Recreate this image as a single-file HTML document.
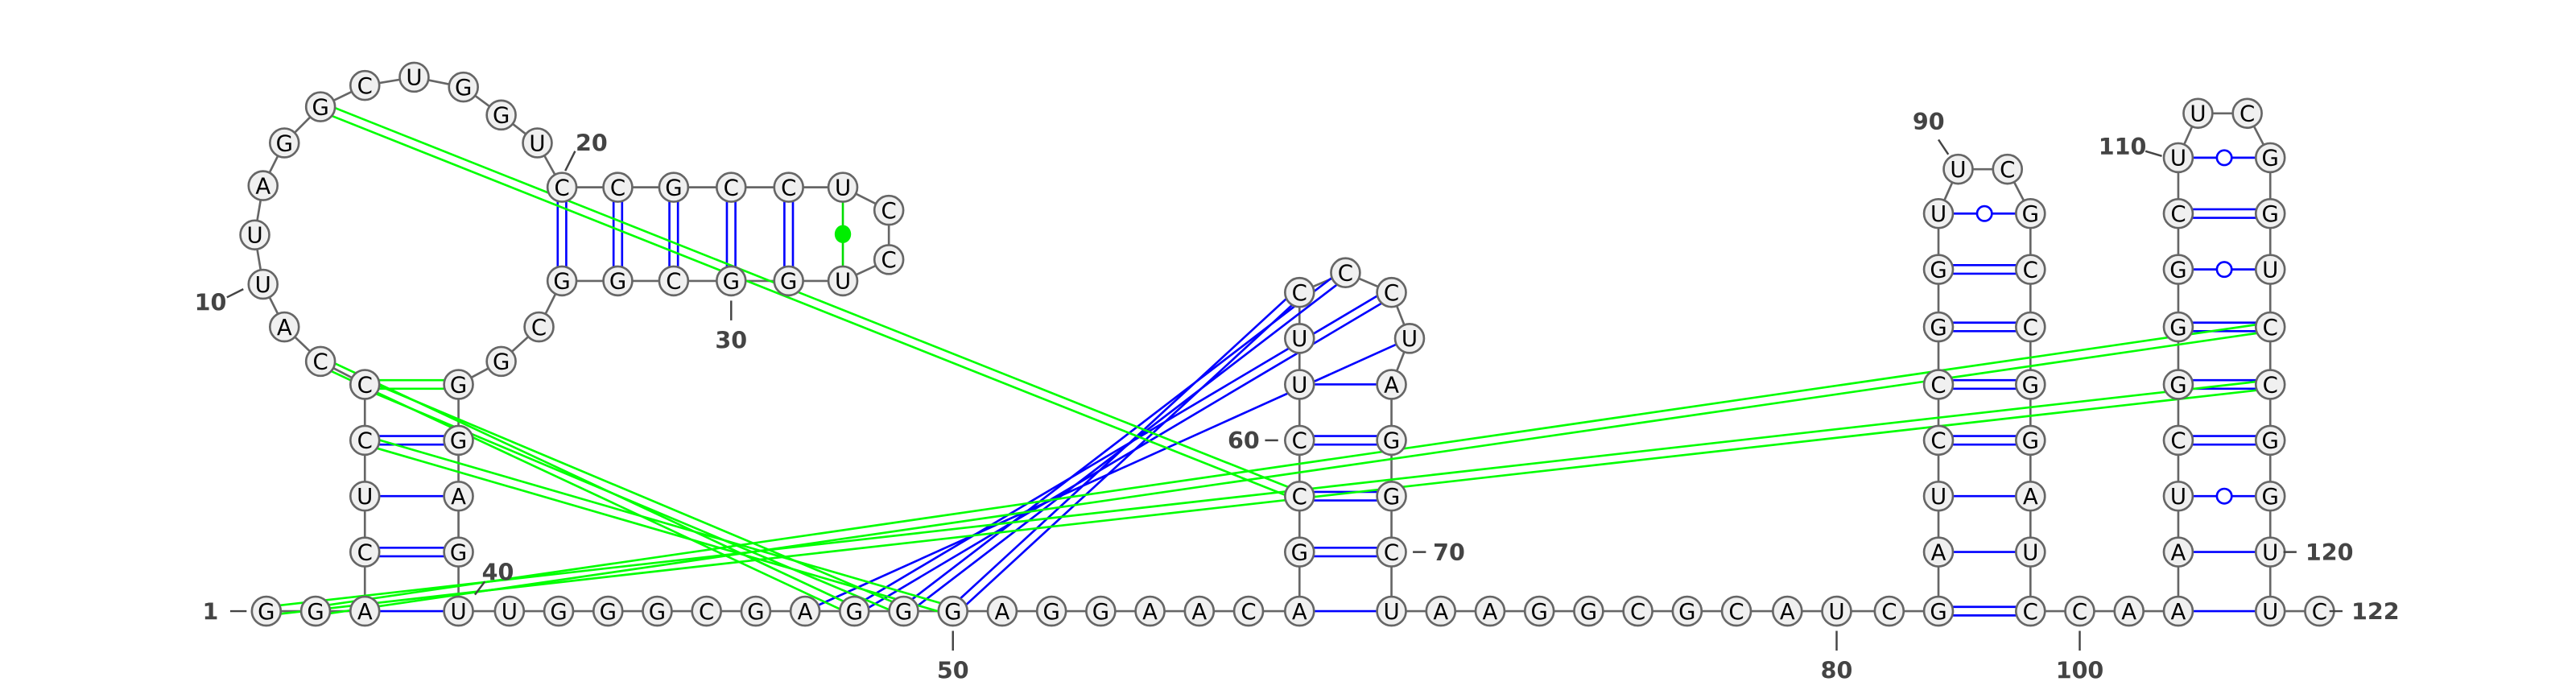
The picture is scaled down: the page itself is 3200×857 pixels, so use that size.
<!DOCTYPE html>
<html><head><meta charset="utf-8">
<style>
html,body{margin:0;padding:0;background:#fff;}
svg{display:block;}
.lbl{font-family:"DejaVu Sans","Liberation Sans",sans-serif;font-weight:bold;font-size:14px;fill:#444;}
.nt{font-family:"DejaVu Sans","Liberation Sans",sans-serif;font-size:13.5px;fill:#000;}
</style></head>
<body>
<svg id="rna" width="3200" height="857" viewBox="0 0 1568 420" xmlns="http://www.w3.org/2000/svg">
<g id="backbone"></g>
<g id="pairs"></g>
<g id="knots"></g>
<g id="nodes"></g>
<g id="labels"></g>
</svg>
<script>
const posX = [162,192,222,222,222,222,222,195,173,160,155,160,173,195,222,252,282,305,327,342,376,410,445,480,513,541,541,513,480,445,410,376,342,328,305,279,279,279,279,279,310,340,370,400,430,460,490,520,550,580,610,640,670,700,730,760,791,791,791,791,791,791,791,819,847,858,847,847,847,847,847,877,907,937,967,997,1027,1057,1088,1118,1150,1180,1180,1180,1180,1180,1180,1180,1180,1192,1222,1236,1236,1236,1236,1236,1236,1236,1236,1266,1296,1326,1326,1326,1326,1326,1326,1326,1326,1326,1338,1368,1382,1382,1382,1382,1382,1382,1382,1382,1382,1412];
const posY = [372,372,372,336,302,268,234,220,199,173,143,113,87,65,52,47,53,70,87,114,114,114,114,114,114,128,158,171,171,171,171,171,171,199,220,234,268,302,336,372,372,372,372,372,372,372,372,372,372,372,372,372,372,372,372,372,372,336,302,268,234,206,178,166,178,206,234,268,302,336,372,372,372,372,372,372,372,372,372,372,372,372,336,302,268,234,199,164,130,103,103,130,164,199,234,268,302,336,372,372,372,372,336,302,268,234,199,164,130,96,69,69,96,130,164,199,234,268,302,336,372,372];
const nts = ["G","G","A","C","U","C","C","C","A","U","U","A","G","G","C","U","G","G","U","C","C","G","C","C","U","C","C","U","G","G","C","G","G","C","G","G","G","A","G","U","U","G","G","G","C","G","A","G","G","G","A","G","G","A","A","C","A","G","C","C","U","U","C","C","C","U","A","G","G","C","U","A","A","G","G","C","G","C","A","U","C","G","A","U","C","C","G","G","U","U","C","G","C","C","G","G","A","U","C","C","A","A","A","U","C","G","G","G","C","U","U","C","G","G","U","C","C","G","G","U","U","C"];
const pairI = [3,4,5,6,20,21,22,23,24,25,57,58,59,60,61,82,83,84,85,86,87,88,89,102,103,104,105,106,107,108,109,110];
const pairJ = [40,39,38,37,33,32,31,30,29,28,71,70,69,68,67,99,98,97,96,95,94,93,92,121,120,119,118,117,116,115,114,113];
const pairT = [1,2,1,2,2,2,2,2,2,4,1,2,2,2,1,2,1,1,2,2,2,2,3,1,1,3,2,2,2,3,2,3];
const knotI = [47,48,49,50,7,8,7,6,14,1,2];
const knotJ = [66,65,64,63,36,48,49,50,59,117,116];
const knotC = ["b","b","b","b","g","g","g","g","g","g","g"];
const knotT = [1,2,2,2,2,2,2,2,2,2,2];
const labNum = [1,10,20,30,40,50,60,70,80,90,100,110,120,122];
const labX = [128,128,360,445,303,580,757,882,1118,1174,1266,1292,1418,1446];
const labY = [377,189,92,212,353,413,273,341,413,79,413,94,341,377];
const tickX1 = [140,138,350,445,295,580,770,860,1118,1180,1266,1306,1390,1418];
const tickY1 = [372,181,92,183,354,384,268,336,384,85,384,92,336,372];
const tickX2 = [150,148,344,445,289,580,778,868,1118,1186,1266,1316,1398,1426];
const tickY2 = [372,176,104,195,362,396,268,336,396,94,396,95,336,372];

const NS="http://www.w3.org/2000/svg";
function mk(tag, parent){const e=document.createElementNS(NS,tag);parent.appendChild(e);return e;}
const P=i=>[posX[i-1],posY[i-1]];
const bb=document.getElementById('backbone');
for(let i=1;i<posX.length;i++){
  const l=mk('line',bb);
  
  
  const a=P(i),b=P(i+1);
  l.setAttribute('x1',a[0]);l.setAttribute('y1',a[1]);l.setAttribute('x2',b[0]);l.setAttribute('y2',b[1]);
  l.setAttribute('stroke','#666');l.setAttribute('stroke-width','1.3');
}
function pairLine(g,a,b,col,type){
  const dx=b[0]-a[0],dy=b[1]-a[1],L=Math.hypot(dx,dy),nx=-dy/L,ny=dx/L;
  const offs = type===2?[-2.6,2.6]:[0];
  offs.forEach(o=>{
    const l=mk('line',g);
    
    
    l.setAttribute('x1',a[0]+nx*o);l.setAttribute('y1',a[1]+ny*o);
    l.setAttribute('x2',b[0]+nx*o);l.setAttribute('y2',b[1]+ny*o);
    l.setAttribute('stroke',col);l.setAttribute('stroke-width','1.3');
  });
  const mx=(a[0]+b[0])/2,my=(a[1]+b[1])/2;
  if(type===3){
    const c=mk('ellipse',g);
    
    
    c.setAttribute('cx',mx);c.setAttribute('cy',my);c.setAttribute('rx',4.5);c.setAttribute('ry',4.5);
    c.setAttribute('fill','#fff');c.setAttribute('stroke','#0000ff');c.setAttribute('stroke-width','1.3');
  }
  if(type===4){
    const c=mk('ellipse',g);
    
    
    c.setAttribute('cx',mx);c.setAttribute('cy',my);c.setAttribute('rx',5);c.setAttribute('ry',5.5);
    c.setAttribute('fill','#00ee00');
  }
}
const pg=document.getElementById('pairs');
for(let k=0;k<pairI.length;k++){
  const t=pairT[k];
  pairLine(pg,P(pairI[k]),P(pairJ[k]),t===4?'#00dd00':'#0000ff',t);
}
const kg=document.getElementById('knots');
for(let k=0;k<knotI.length;k++){
  pairLine(kg,P(knotI[k]),P(knotJ[k]),knotC[k]==='b'?'#0000ff':'#00ff00',knotT[k]);
}
const ng=document.getElementById('nodes');
for(let i=1;i<=posX.length;i++){
  const g=mk('g',ng);
  
  
  const c=mk('circle',g);
  
  
  c.setAttribute('cx',posX[i-1]);c.setAttribute('cy',posY[i-1]);c.setAttribute('r',8.8);
  c.setAttribute('fill','#f0f0f0');c.setAttribute('stroke','#666');c.setAttribute('stroke-width','1.3');
  const t=mk('text',g);
  
  
  t.setAttribute('class','nt');
  t.setAttribute('x',posX[i-1]);t.setAttribute('y',posY[i-1]+4.8);
  t.setAttribute('text-anchor','middle');
  t.textContent=nts[i-1];
}
const lg=document.getElementById('labels');
for(let k=0;k<labNum.length;k++){
  const l=mk('line',lg);
  
  
  l.setAttribute('x1',tickX1[k]);l.setAttribute('y1',tickY1[k]);l.setAttribute('x2',tickX2[k]);l.setAttribute('y2',tickY2[k]);
  l.setAttribute('stroke','#444');l.setAttribute('stroke-width','1.2');
  const t=mk('text',lg);
  
  
  t.setAttribute('class','lbl');
  t.setAttribute('x',labX[k]);t.setAttribute('y',labY[k]);
  t.setAttribute('text-anchor','middle');
  t.textContent=labNum[k];
}
</script>
</body></html>
